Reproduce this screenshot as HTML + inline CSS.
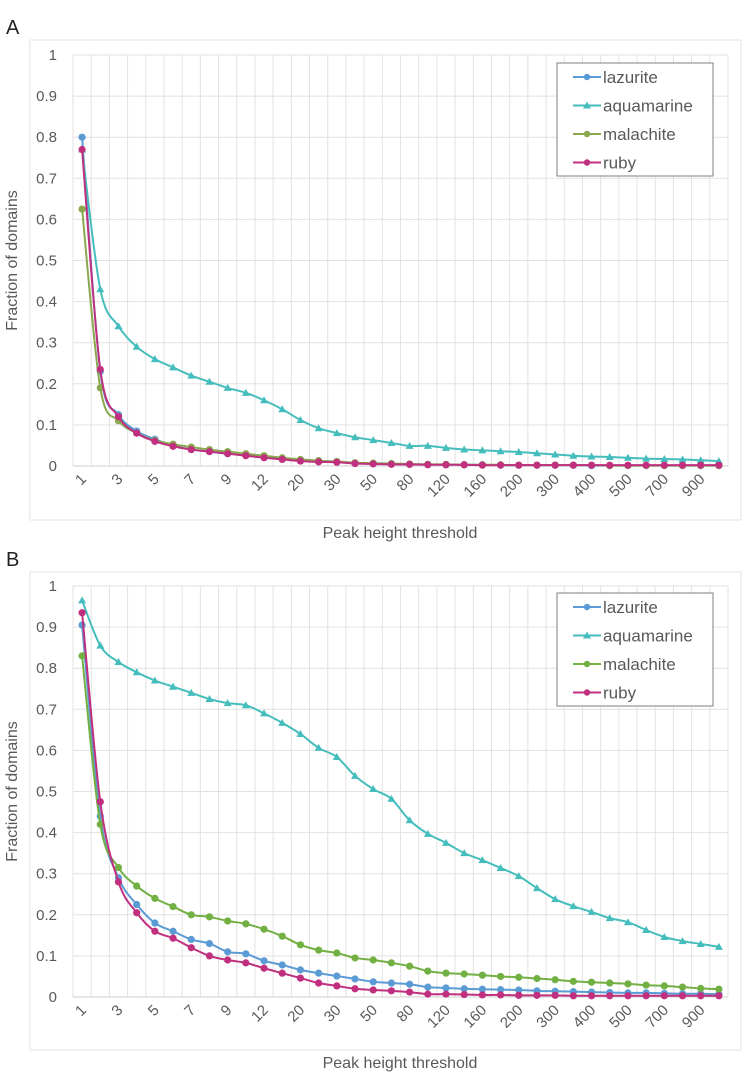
<!DOCTYPE html>
<html><head><meta charset="utf-8">
<style>
html,body{margin:0;padding:0;background:#fff;}
svg{display:block;font-family:"Liberation Sans",Arial,sans-serif;}
</style></head>
<body>
<svg id="chart" width="743" height="1076" viewBox="0 0 743 1076" xmlns="http://www.w3.org/2000/svg"></svg>
<script>
const categories = ["1","2","3","4","5","6","7","8","9","10","12","15","20","25","30","40","50","60","80","100","120","140","160","180","200","250","300","350","400","450","500","600","700","800","900","1000"];
const tickLabels = ["1","","3","","5","","7","","9","","12","","20","","30","","50","","80","","120","","160","","200","","300","","400","","500","","700","","900",""];
const yTicks = [0,0.1,0.2,0.3,0.4,0.5,0.6,0.7,0.8,0.9,1];
const seriesNames = ["lazurite","aquamarine","malachite","ruby"];

const aLazurite = [0.80,0.23,0.125,0.085,0.065,0.05,0.04,0.035,0.03,0.027,0.022,0.018,0.014,0.012,0.01,0.007,0.006,0.005,0.004,0.004,0.003,0.003,0.003,0.002,0.002,0.002,0.002,0.002,0.001,0.001,0.001,0.001,0.001,0.001,0.001,0.001];
const aAquamarine = [0.77,0.43,0.34,0.29,0.26,0.24,0.22,0.205,0.19,0.178,0.16,0.138,0.112,0.092,0.08,0.07,0.063,0.056,0.049,0.049,0.044,0.04,0.038,0.036,0.034,0.031,0.028,0.025,0.023,0.022,0.02,0.018,0.017,0.016,0.014,0.012];
const aMalachite = [0.625,0.19,0.11,0.08,0.062,0.053,0.046,0.04,0.035,0.03,0.025,0.02,0.016,0.013,0.011,0.008,0.007,0.006,0.005,0.004,0.004,0.003,0.003,0.003,0.002,0.002,0.002,0.002,0.002,0.001,0.001,0.001,0.001,0.001,0.001,0.001];
const aRuby = [0.77,0.235,0.12,0.08,0.06,0.048,0.04,0.035,0.03,0.025,0.02,0.016,0.012,0.01,0.009,0.006,0.005,0.004,0.004,0.003,0.003,0.003,0.002,0.002,0.002,0.002,0.002,0.002,0.002,0.002,0.002,0.002,0.002,0.002,0.002,0.002];

const bLazurite = [0.905,0.44,0.29,0.225,0.18,0.16,0.14,0.13,0.11,0.105,0.088,0.078,0.066,0.058,0.051,0.044,0.037,0.034,0.031,0.024,0.022,0.02,0.019,0.018,0.017,0.015,0.014,0.013,0.012,0.011,0.01,0.01,0.009,0.008,0.008,0.007];
const bAquamarine = [0.965,0.855,0.815,0.79,0.77,0.755,0.74,0.725,0.715,0.71,0.69,0.667,0.64,0.606,0.584,0.538,0.506,0.482,0.43,0.397,0.375,0.35,0.333,0.314,0.294,0.265,0.238,0.221,0.207,0.192,0.182,0.163,0.146,0.136,0.129,0.122];
const bMalachite = [0.83,0.42,0.315,0.27,0.24,0.22,0.2,0.195,0.185,0.178,0.165,0.148,0.127,0.114,0.107,0.095,0.09,0.083,0.075,0.063,0.058,0.056,0.053,0.05,0.048,0.045,0.042,0.038,0.036,0.034,0.032,0.029,0.027,0.024,0.021,0.019];
const bRuby = [0.935,0.475,0.28,0.205,0.16,0.143,0.12,0.1,0.09,0.083,0.07,0.058,0.046,0.034,0.027,0.02,0.017,0.015,0.012,0.007,0.007,0.006,0.005,0.005,0.004,0.004,0.004,0.003,0.003,0.003,0.003,0.003,0.003,0.003,0.003,0.003];

const NS = "http://www.w3.org/2000/svg";
const svg = document.getElementById('chart');
function mk(tag, attrs, parent){const e=document.createElementNS(NS,tag);for(const k in attrs)e.setAttribute(k,attrs[k]);(parent||svg).appendChild(e);return e;}

const colorsA = ["#5b9bd5","#45bdbd","#8aa84e","#c0307f"];
const colorsB = ["#5b9bd5","#45bdbd","#72b043","#c0307f"];

function drawChart(cfg){
  const g = mk('g',{});
  
  
  const x0 = 73, x1 = 728, y0 = cfg.y0, yTop = cfg.y1;
  const step = (x1 - x0) / categories.length;
  const xs = i => x0 + step * (i + 0.5);
  const ys = v => y0 - (y0 - yTop) * v;
  const frame = mk('rect',{x:30,y:cfg.fy,width:711,height:cfg.fh,fill:'#fff',stroke:'#e3e3e3','stroke-width':1},g);
  
  
  const lbl = mk('text',{x:6,y:cfg.fy-6,'font-size':20,fill:'#222'},g);
  lbl.textContent = cfg.label;
  
  
  // gridlines
  for(let k=0;k<=categories.length;k++){
    const gl = mk('line',{x1:x0+step*k,x2:x0+step*k,y1:yTop,y2:y0,stroke:'#e2e2e2','stroke-width':1},g);
    
    
  }
  yTicks.forEach(t=>{
    const gl = mk('line',{x1:x0,x2:x1,y1:ys(t),y2:ys(t),stroke:t===0?'#cfcfcf':'#e2e2e2','stroke-width':1},g);
    
    
    const tl = mk('text',{x:57,y:ys(t)+5,'font-size':15,fill:'#595959','text-anchor':'end'},g);
    tl.textContent = String(t);
    
    
  });
  tickLabels.forEach((t,i)=>{
    if(!t) return;
    const tx = mk('text',{x:0,y:0,'font-size':15,fill:'#595959','text-anchor':'end',transform:`translate(${xs(i)+5},${y0+14}) rotate(-45)`},g);
    tx.textContent = t;
    
    
  });
  const yt = mk('text',{x:0,y:0,'font-size':16,fill:'#595959','text-anchor':'middle',transform:`translate(17,${(y0+yTop)/2}) rotate(-90)`},g);
  yt.textContent = 'Fraction of domains';
  
  
  const xt = mk('text',{x:400,y:cfg.xty,'font-size':16,fill:'#595959','text-anchor':'middle'},g);
  xt.textContent = 'Peak height threshold';
  
  

  cfg.series.forEach((vals,si)=>{
    const col = cfg.colors[si];
    const pts = vals.map((v,i)=>[xs(i),ys(v)]);
    let d = `M${pts[0][0]},${pts[0][1]}`;
    for(let i=0;i<pts.length-1;i++){
      const p0=pts[Math.max(0,i-1)],p1=pts[i],p2=pts[i+1],p3=pts[Math.min(pts.length-1,i+2)];
      const c1=[p1[0]+(p2[0]-p0[0])/6,p1[1]+(p2[1]-p0[1])/6];
      const c2=[p2[0]-(p3[0]-p1[0])/6,p2[1]-(p3[1]-p1[1])/6];
      d+=` C${c1[0]},${c1[1]} ${c2[0]},${c2[1]} ${p2[0]},${p2[1]}`;
    }
    const line = mk('path',{d:d,fill:'none',stroke:col,'stroke-width':2},g);
    
    
    pts.forEach(p=>{
      let m;
      if(si===1){
        m = mk('polygon',{points:`${p[0]},${p[1]-4} ${p[0]-4},${p[1]+3} ${p[0]+4},${p[1]+3}`,fill:col},g);
      } else {
        m = mk('circle',{cx:p[0],cy:p[1],r:3.6,fill:col},g);
      }
      
      
    });
  });
  // legend
  const lg = mk('g',{},g);
  
  
  mk('rect',{x:557,y:cfg.ly,width:156,height:cfg.lh,fill:'#fff',stroke:'#7f7f7f','stroke-width':1},lg);
  seriesNames.forEach((n,si)=>{
    const ey = cfg.ly + 14 + si*28.5;
    const e = mk('g',{},lg);
    
    
    mk('line',{x1:573,x2:601,y1:ey,y2:ey,stroke:cfg.colors[si],'stroke-width':2},e);
    if(si===1) mk('polygon',{points:`587,${ey-4} 583,${ey+3} 591,${ey+3}`,fill:cfg.colors[si]},e);
    else mk('circle',{cx:587,cy:ey,r:3.2,fill:cfg.colors[si]},e);
    const t = mk('text',{x:603,y:ey+6,'font-size':17,fill:'#595959'},e);
    t.textContent = n;
  });
}

drawChart({name:'chart-a',label:'A',fy:40,fh:480,y0:466,y1:55,xty:538,ly:63,lh:113,colors:colorsA,series:[aLazurite,aAquamarine,aMalachite,aRuby]});
drawChart({name:'chart-b',label:'B',fy:572,fh:478,y0:997,y1:586,xty:1068,ly:593,lh:113,colors:colorsB,series:[bLazurite,bAquamarine,bMalachite,bRuby]});
</script>
</body></html>
